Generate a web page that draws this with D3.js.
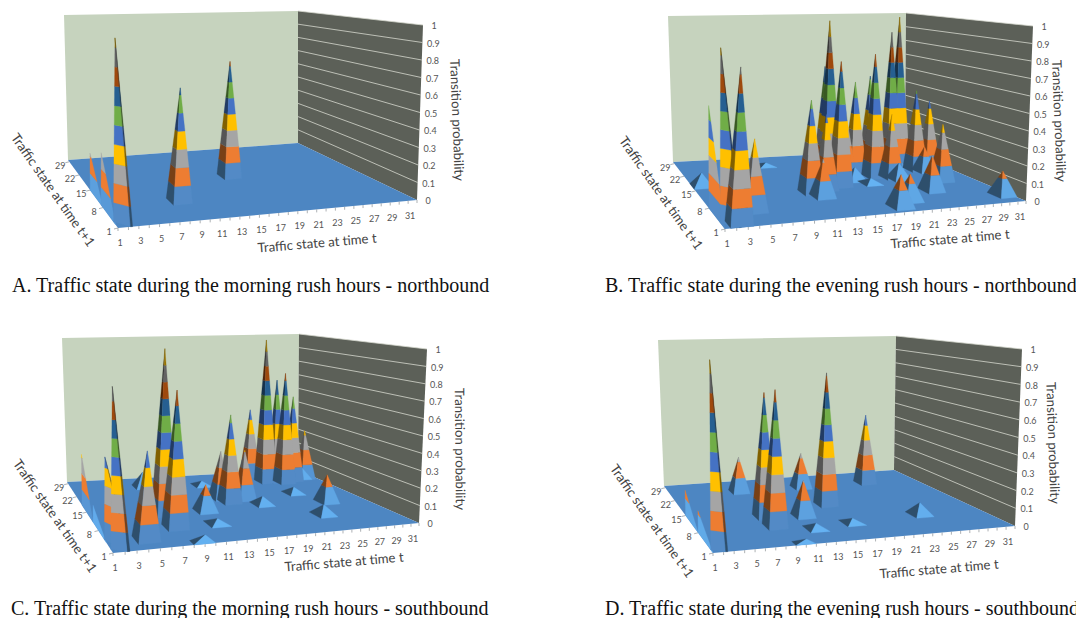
<!DOCTYPE html>
<html lang="en">
    <head>
        <meta charset="utf-8">
        <title>Traffic state transition probability</title>
        <script type="text/javascript" src="https://cdn.jsdelivr.net/npm/d3@7"></script>
        <style>
          body { margin: 0; background: #fff; }
          svg { display: block; overflow: hidden; }
        </style>
    </head>
    <body>
        <script type="text/javascript">
          // tick labels
          var stateTicksT = [1, 3, 5, 7, 9, 11, 13, 15, 17, 19, 21, 23, 25, 27, 29, 31];
          var stateTicksS = [1, 8, 15, 22, 29];
          var probTicks = [0, 0.1, 0.2, 0.3, 0.4, 0.5, 0.6, 0.7, 0.8, 0.9, 1];

          // one colour per 0.1 of probability, from the bottom up
          var bandColors = ["#5B9BD5", "#ED7D31", "#A5A5A5", "#FFC000", "#4472C4",
                            "#70AD47", "#255E91", "#9E480E", "#636363", "#997300"];

          var captions = [
            "A. Traffic state during the morning rush hours - northbound",
            "B. Traffic state during the evening rush hours - northbound",
            "C. Traffic state during the morning rush hours - southbound",
            "D. Traffic state during the evening rush hours - southbound"
          ];

          // peaks: [state at t, state at t+1, probability]
          var peaksA = [[1, 3, 0.95], [1, 15, 0.22], [1, 9, 0.29], [9, 8, 0.64], [17.3, 16, 0.73]];

          var peaksB = [
            [1, 8, 0.58], [1, 3, 0.94], [2.5, 2, 0.84], [4.8, 6, 0.4], [4.3, 10, 0.5], [2, 17, 0.08],
            [12, 11, 0.55], [15.8, 16, 1], [16, 18, 0.7], [16, 13, 0.76], [17, 16, 0.55],
            [18, 17, 0.45], [19.3, 17, 0.6], [21.3, 16, 0.78], [22, 19, 0.62], [25.2, 20, 0.9],
            [26.2, 20, 1], [27.6, 18, 0.52], [29.4, 18, 0.45], [28, 12, 0.35], [31, 21, 0.36],
            [14, 12, 0.45], [23, 15, 0.4],
            [12.6, 9, 0.22], [18.5, 15, 0.08], [19.6, 13, 0.03], [23.5, 14, 0.1], [26, 20, 0.06],
            [28.3, 17, 0.16], [24.6, 8, 0.21], [18.5, 3, 0.18], [20.5, 5, 0.15], [31, 4, 0.14], [11, 25, 0.02]
          ];

          var peaksC = [
            [1, 2, 0.88], [1, 18, 0.32], [1, 5, 0.46], [1, 11, 0.1], [8.2, 12, 1], [8, 7, 0.79],
            [4.5, 4, 0.49], [9, 25, 0.1], [12.6, 12, 0.16], [16.4, 15, 0.55], [16, 17, 0.3], [18.5, 16, 0.31],
            [19.5, 13, 0.05], [16, 24, 0.03], [12.2, 7, 0.03], [9, 1, 0.05], [24.5, 24, 0.98], [24, 28, 0.47],
            [26.7, 23, 0.75], [26, 24, 0.7], [28.3, 24, 0.58], [30.5, 25, 0.33], [28, 26, 0.08], [30, 25, 0.08],
            [27, 12, 0.17], [24, 7, 0.06], [25.2, 17, 0.04]
          ];

          var peaksD = [
            [1, 2, 0.97], [1, 15, 0.15], [1, 8, 0.12], [9.2, 24, 0.23], [9, 12, 0.73], [9, 8, 0.77],
            [17, 24, 0.23], [13, 11, 0.21], [17, 15, 0.82], [25.4, 24, 0.47], [25, 8, 0.07],
            [12.7, 6, 0.03], [17, 7, 0.025], [10, 1, 0.03]
          ];

          // where each chart sits on the page
          var panels = [
            { peaks: peaksA, caption: captions[0], capX: 12, capY: 292,
              near: [118, 228], right: [417, 200], back: [298, 143], left: [68, 160],
              backTop: [298, 11], rightTop: [423, 25], leftTop: [64, 15],
              titleT: [317, 243, -4.8], titleS: [53, 190, 54.8], titleZ: [457, 120, 87.7] },
            { peaks: peaksB, caption: captions[1], capX: 605, capY: 292,
              near: [725, 229], right: [1026, 201], back: [905, 150], left: [673, 162],
              backTop: [906, 13], rightTop: [1033, 26], leftTop: [668, 16],
              titleT: [950, 239, -4.8], titleS: [661, 193, 54.8], titleZ: [1059, 121, 87.7] },
            { peaks: peaksC, caption: captions[2], capX: 11, capY: 615,
              near: [113, 553], right: [419, 523], back: [298, 470], left: [67, 482],
              backTop: [299, 334], rightTop: [427, 349], leftTop: [62, 338],
              titleT: [344, 562, -4.8], titleS: [55, 516, 54.8], titleZ: [460, 449, 89.5] },
            { peaks: peaksD, caption: captions[3], capX: 605, capY: 615,
              near: [713, 553], right: [1015, 526], back: [894, 470], left: [664, 486],
              backTop: [896, 336], rightTop: [1022, 349], leftTop: [658, 340],
              titleT: [939, 569, -4.8], titleS: [652, 521, 54.8], titleZ: [1053, 443, 88] }
          ];

          var tScale = d3.scaleLinear().domain([1, 32]).range([0, 1]);
          var sScale = d3.scaleLinear().domain([1, 30]).range([0, 1]);

          var svg = d3.select("body")
            .append("svg")
            .attr("width", 1076)
            .attr("height", 618);

          // the source is a soft, scaled-up bitmap
          svg.append("filter").attr("id", "soft")
            .append("feGaussianBlur").attr("stdDeviation", 0.55);

          // perspective of the floor, from its four corners
          function floorMap(p) {
            var dx1 = p.right[0] - p.back[0], dx2 = p.left[0] - p.back[0];
            var dy1 = p.right[1] - p.back[1], dy2 = p.left[1] - p.back[1];
            var sx = p.near[0] - p.right[0] + p.back[0] - p.left[0];
            var sy = p.near[1] - p.right[1] + p.back[1] - p.left[1];
            var den = dx1 * dy2 - dx2 * dy1;
            var g = (sx * dy2 - dx2 * sy) / den;
            var h = (dx1 * sy - sx * dy1) / den;
            var a = p.right[0] - p.near[0] + g * p.right[0];
            var b = p.left[0] - p.near[0] + h * p.left[0];
            var d = p.right[1] - p.near[1] + g * p.right[1];
            var e = p.left[1] - p.near[1] + h * p.left[1];
            return function(u, v) {
              var w = g * u + h * v + 1;
              return [(a * u + b * v + p.near[0]) / w, (d * u + e * v + p.near[1]) / w];
            };
          }

          // floor position plus height, height grows towards the viewer
          function projector(p) {
            var floor = floorMap(p);
            var iLeft = 1 / (p.left[1] - p.leftTop[1]);
            var iBack = 1 / (p.back[1] - p.backTop[1]);
            var iRight = 1 / (p.right[1] - p.rightTop[1]);
            var lLeft = p.leftTop[0] - p.left[0];
            var lBack = p.backTop[0] - p.back[0];
            var lRight = p.rightTop[0] - p.right[0];
            return function(t, s, z) {
              var u = tScale(t), v = sScale(s);
              var f = floor(u, v);
              // u=1,v=1 is the back corner, u=0,v=1 left, u=1,v=0 right
              var inv = iBack + (1 - u) * (iLeft - iBack) + (1 - v) * (iRight - iBack);
              var lean = lBack + (1 - u) * (lLeft - lBack) + (1 - v) * (lRight - lBack);
              return [f[0] + z * lean, f[1] - z / inv];
            };
          }

          var line = d3.line();

          // split one pyramid face into its coloured bands
          function faceBands(project, a, b, apex, dark) {
            var out = [];
            var v = apex[2];
            bandColors.forEach(function(c, i) {
              var lo = i / 10, hi = Math.min(v, (i + 1) / 10);
              if (lo >= v) return;
              var at = function(corner, z) {
                var f = z / v;
                return project(corner[0] + (apex[0] - corner[0]) * f,
                               corner[1] + (apex[1] - corner[1]) * f, z);
              };
              var fill = c;
              if (i == 0) fill = d3.interpolateRgb("#66B5F5", "#528AC6")(Math.min(1, v / 0.45));
              if (dark) fill = d3.rgb(c).darker(1.9).formatRgb();
              var pts = [at(a, lo), at(b, lo), at(b, hi), at(a, hi)];
              out.push({ pts: pts, fill: fill });
            });
            return out;
          }

          function peakPolys(project, peak) {
            var t = peak[0], s = peak[1], apex = peak;
            if (t == 1) {
              // peaks on the front-left edge only show a face in the t=1 plane
              if (s >= 8) {
                return faceBands(project, [1, s], [1, s - 7], apex, false);
              }
              return faceBands(project, [1, s], [2.2, 1], apex, false)
                .concat(faceBands(project, [2.2, 1], [2.4, 1], apex, true));
            }
            var halfS = 1.4;
            var t0 = Math.max(1, t - 1), t1 = Math.min(32, t + 1);
            var s0 = Math.max(1, s - halfS), s1 = Math.min(30, s + halfS);
            return faceBands(project, [t0, s1], [t0, s0], apex, true)
              .concat(faceBands(project, [t0, s0], [t1, s0], apex, false));
          }

          panels.forEach(function(p) {
            var project = projector(p);
            var g = svg.append("g");
            var marks = g.append("g").attr("filter", "url(#soft)");

            // back wall, side wall, floor
            marks.append("path").attr("fill", "#C6D3BE")
              .attr("d", line([p.left, p.leftTop, p.backTop, p.back]) + "Z");
            marks.append("path").attr("fill", "#5C6058")
              .attr("d", line([p.back, p.backTop, p.rightTop, p.right]) + "Z");
            marks.append("path").attr("fill", "#4E86C2")
              .attr("d", line([p.near, p.right, p.back, p.left]) + "Z");

            // grid lines on the side wall
            marks.selectAll(".grid")
              .data(probTicks.slice(1))
              .enter()
              .append("path")
              .attr("stroke", "#D5D8CE")
              .attr("stroke-width", 0.8)
              .attr("d", function(z) { return line([project(32, 30, z), project(32, 1, z)]); });

            // axis tick marks
            var tickTs = d3.range(1, 33);
            marks.selectAll(".tickT")
              .data(tickTs)
              .enter()
              .append("path")
              .attr("stroke", "#8a8f94")
              .attr("stroke-width", 0.7)
              .attr("d", function(t) {
                var q = project(t, 1, 0);
                return line([q, [q[0], q[1] + 3]]);
              });
            marks.selectAll(".tickS")
              .data(stateTicksS)
              .enter()
              .append("path")
              .attr("stroke", "#8a8f94")
              .attr("stroke-width", 0.7)
              .attr("d", function(s) {
                var q = project(1, s, 0);
                return line([q, [q[0] - 4, q[1] + 1]]);
              });

            // peaks, far ones first
            var sorted = p.peaks.slice().sort(function(a, b) {
              return project(a[0], a[1], 0)[1] - project(b[0], b[1], 0)[1];
            });
            sorted.forEach(function(peak) {
              marks.append("g").selectAll("path")
                .data(peakPolys(project, peak))
                .enter()
                .append("path")
                .attr("d", function(d) { return line(d.pts) + "Z"; })
                .attr("fill", function(d) { return d.fill; })
                .attr("stroke", function(d) { return d.fill; })
                .attr("stroke-width", 0.3);
            });

            // tick labels
            var tickStyle = function(sel) {
              sel.attr("font-family", "Lato, 'Open Sans', sans-serif")
                .attr("font-size", "9px")
                .attr("fill", "#555")
                .attr("text-anchor", "middle")
                .attr("dy", "0.35em");
            };
            g.selectAll(".labT")
              .data(stateTicksT)
              .enter()
              .append("text")
              .text(function(t) { return t; })
              .attr("x", function(t) { return project(t, 1, 0)[0] + 2; })
              .attr("y", function(t) { return project(t, 1, 0)[1] + 15; })
              .call(tickStyle);
            g.selectAll(".labS")
              .data(stateTicksS)
              .enter()
              .append("text")
              .text(function(s) { return s; })
              .attr("x", function(s) { return project(1, s, 0)[0] - 9; })
              .attr("y", function(s) { return project(1, s, 0)[1] + 4; })
              .call(tickStyle);
            g.selectAll(".labZ")
              .data(probTicks)
              .enter()
              .append("text")
              .text(function(z) { return z; })
              .attr("x", function(z) { return project(32, 1, z)[0] + 11; })
              .attr("y", function(z) { return project(32, 1, z)[1] + 1; })
              .call(tickStyle);

            // axis titles
            [[p.titleT, "Traffic state at time t"],
             [p.titleS, "Traffic state at time t+1"],
             [p.titleZ, "Transition probability"]].forEach(function(d) {
              g.append("text")
                .text(d[1])
                .attr("transform", "translate(" + d[0][0] + "," + d[0][1] + ") rotate(" + d[0][2] + ")")
                .attr("font-family", "Lato, 'Open Sans', sans-serif")
                .attr("font-size", "13.2px")
                .attr("fill", "#444")
                .attr("text-anchor", "middle")
                .attr("dy", "0.35em");
            });

            // caption under the chart
            g.append("text")
              .text(p.caption)
              .attr("x", p.capX)
              .attr("y", p.capY)
              .attr("font-family", "'Liberation Serif', serif")
              .attr("font-size", "20px")
              .attr("fill", "#111");
          });
        </script>
    </body>
</html>
